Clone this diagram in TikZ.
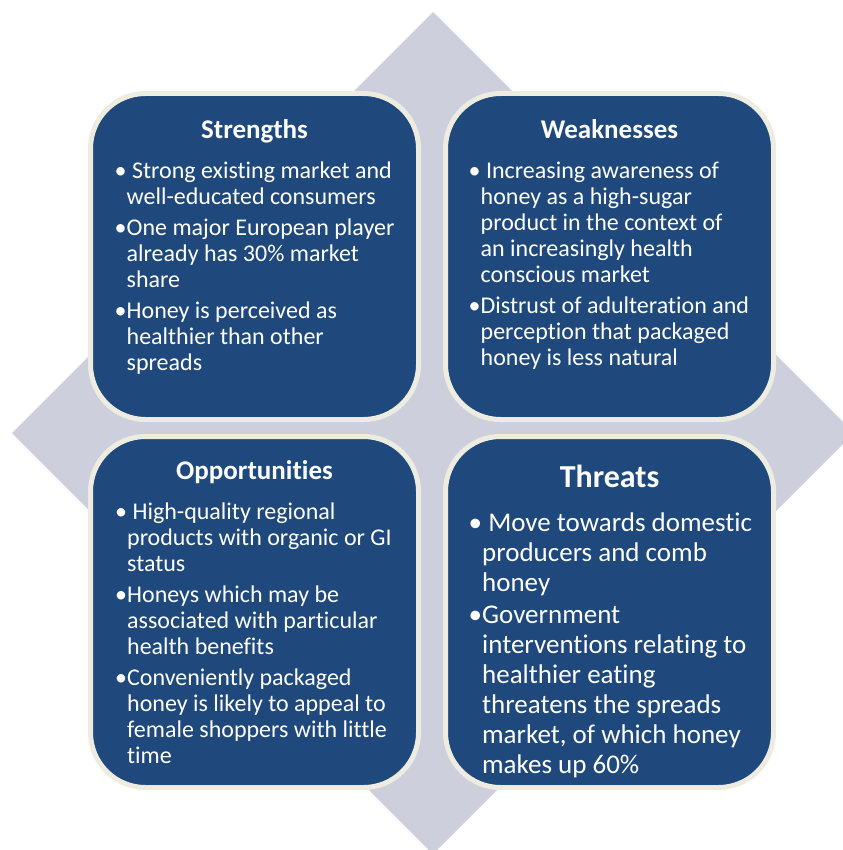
\documentclass[tikz,border=0pt]{standalone}
\usepackage{fontspec}
\setmainfont{Carlito}[Ligatures=NoCommon]
\usetikzlibrary{positioning}
\definecolor{swotblue}{HTML}{1F497D}
\definecolor{swotrim}{HTML}{EEECE1}
\definecolor{swotgrey}{HTML}{CDD0DC}
\newcommand{\cont}{\phantom{\textbullet}}

\begin{document}
\begin{tikzpicture}[
    x=1pt, y=-1pt,
    quad/.style={draw=swotrim, line width=5pt, fill=swotblue, rounded corners=55pt, minimum width=328pt, inner sep=0pt},
    head/.style={text=white, font=\bfseries\fontsize{27}{30}\selectfont, anchor=base},
    body/.style={text=white, font=\fontsize{24}{26}\selectfont, align=left, anchor=north west, inner sep=0pt},
]
\useasboundingbox (0,0) rectangle (842,850);

% Background diamond
\fill[swotgrey] (433,12) -- (854,433) -- (433,854) -- (12,433) -- cycle;

% Quadrants
\node[quad, minimum height=326pt] (S) at (254.5,256.5) {};
\node[quad, minimum height=326pt] (W) at (609.5,256.5) {};
\node[quad, minimum height=351pt] (O) at (254.5,612) {};
\node[quad, minimum height=351pt] (T) at (609.5,612) {};

% Headings
\node[head] (hS) at ([yshift=-48pt]S.north) {Strengths};
\node[head] (hW) at ([yshift=-48pt]W.north) {Weaknesses};
\node[head] (hO) at ([yshift=-45.5pt]O.north) {Opportunities};
\node[head, font=\bfseries\fontsize{32}{36}\selectfont] (hT) at ([yshift=-53.5pt]T.north) {Threats};

% Bullet texts
\node[body] (bS) at ([xshift=26.5pt, yshift=-71pt]S.north west) {%
\textbullet\ Strong existing market and\\
\cont well-educated consumers\\[5pt]
\textbullet One major European player\\
\cont already has 30\% market\\
\cont share\\[5pt]
\textbullet Honey is perceived as\\
\cont healthier than other\\
\cont spreads};

\node[body] (bW) at ([xshift=25.5pt, yshift=-71pt]W.north west) {%
\textbullet\ Increasing awareness of\\
\cont honey as a high-sugar\\
\cont product in the context of\\
\cont an increasingly health\\
\cont conscious market\\[5pt]
\textbullet Distrust of adulteration and\\
\cont perception that packaged\\
\cont honey is less natural};

\node[body] (bO) at ([xshift=27pt, yshift=-69pt]O.north west) {%
\textbullet\ High-quality regional\\
\cont products with organic or GI\\
\cont status\\[5pt]
\textbullet Honeys which may be\\
\cont associated with particular\\
\cont health benefits\\[5pt]
\textbullet Conveniently packaged\\
\cont honey is likely to appeal to\\
\cont female shoppers with little\\
\cont time};

\node[body, font=\fontsize{27}{30}\selectfont] (bT) at ([xshift=25.5pt, yshift=-79pt]T.north west) {%
\textbullet\ Move towards domestic\\
\cont producers and comb\\
\cont honey\\[2pt]
\textbullet Government\\
\cont interventions relating to\\
\cont healthier eating\\
\cont threatens the spreads\\
\cont market, of which honey\\
\cont makes up 60\%};

\end{tikzpicture}
\end{document}
